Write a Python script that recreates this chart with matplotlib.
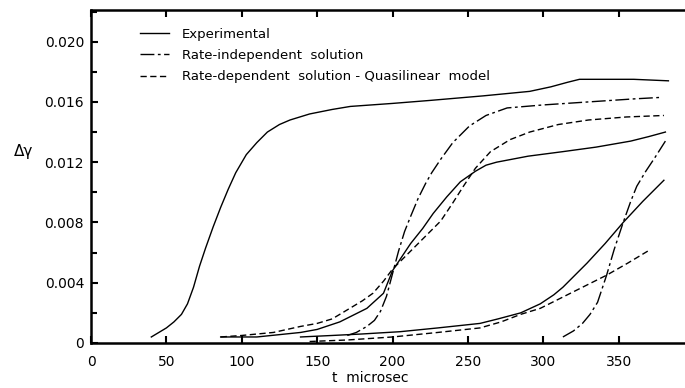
import matplotlib
matplotlib.use("Agg")
import matplotlib.pyplot as plt
import numpy as np

# experimental curves (solid)
exp1_t = [40, 50, 55, 60, 64, 68, 72, 76, 81, 86, 91, 96, 103, 110, 117, 125, 132, 145, 160, 172, 200, 225, 260, 291, 305, 316, 324, 340, 360, 383]
exp1_g = [0.0004, 0.0010, 0.0014, 0.0019, 0.0026, 0.0037, 0.0051, 0.0063, 0.0077, 0.0090, 0.0102, 0.0113, 0.0125, 0.0133, 0.0140, 0.0145, 0.0148, 0.0152, 0.0155, 0.0157, 0.0159, 0.0161, 0.0164, 0.0167, 0.0170, 0.0173, 0.0175, 0.0175, 0.0175, 0.0174]

exp2_t = [86, 110, 139, 150, 165, 175, 183, 194, 200, 206, 212, 220, 227, 236, 245, 255, 262, 269, 290, 313, 335, 358, 370, 381]
exp2_g = [0.0004, 0.0004, 0.0007, 0.0009, 0.0014, 0.0019, 0.0023, 0.0033, 0.0048, 0.0057, 0.0066, 0.0076, 0.0086, 0.0097, 0.0107, 0.0114, 0.0118, 0.0120, 0.0124, 0.0127, 0.0130, 0.0134, 0.0137, 0.0140]

exp3_t = [139, 160, 180, 205, 230, 258, 270, 285, 298, 307, 313, 329, 341, 353, 366, 380]
exp3_g = [0.0004, 0.0005, 0.0006, 0.00075, 0.0010, 0.0013, 0.0016, 0.0020, 0.0026, 0.0032, 0.0037, 0.0053, 0.0066, 0.0080, 0.0094, 0.0108]

# rate-independent solution (dash-dot)
ri1_t = [170, 176, 183, 188, 192, 196, 200, 204, 208, 212, 217, 222, 226, 232, 240, 251, 262, 276, 300, 330, 360, 378]
ri1_g = [0.0005, 0.0007, 0.0011, 0.0015, 0.0021, 0.0031, 0.0046, 0.0061, 0.0074, 0.0084, 0.0096, 0.0106, 0.0113, 0.0122, 0.0133, 0.0144, 0.0151, 0.0156, 0.0158, 0.0160, 0.0162, 0.0163]

ri2_t = [313, 320, 326, 331, 336, 342, 347, 353, 358, 362, 368, 374, 381]
ri2_g = [0.0004, 0.0008, 0.0013, 0.0019, 0.0027, 0.0045, 0.0062, 0.0080, 0.0094, 0.0104, 0.0114, 0.0123, 0.0134]

# rate-dependent solution, quasilinear model (dashed)
rd1_t = [86, 100, 121, 139, 150, 160, 170, 180, 187, 194, 200, 208, 216, 224, 232, 240, 247, 255, 265, 278, 291, 310, 330, 355, 380]
rd1_g = [0.0004, 0.0005, 0.0007, 0.0011, 0.0013, 0.0016, 0.0022, 0.0028, 0.0033, 0.0041, 0.0049, 0.0057, 0.0065, 0.0073, 0.0081, 0.0093, 0.0104, 0.0116, 0.0127, 0.0135, 0.0140, 0.0145, 0.0148, 0.0150, 0.0151]

rd2_t = [145, 170, 200, 230, 258, 272, 285, 298, 320, 342, 356, 371]
rd2_g = [0.0001, 0.0002, 0.0004, 0.0007, 0.0010, 0.0014, 0.0019, 0.0023, 0.0034, 0.0045, 0.0053, 0.0062]

labels = ["Experimental", "Rate-independent  solution", "Rate-dependent  solution - Quasilinear  model"]
xticks = [0, 50, 100, 150, 200, 250, 300, 350]
yticks = [0, 0.004, 0.008, 0.012, 0.016, 0.020]
ytick_labels = ["0", "0.004", "0.008", "0.012", "0.016", "0.020"]

plt.rcParams['font.family'] = ['DejaVu Sans']

fig = plt.figure(figsize=(6.85, 3.88), dpi=100)
ax = fig.add_axes([91 / 685, 45 / 388, 594 / 685, 333 / 388])

lw = 1.0
dashdot = (0, (10, 2.5, 2, 2.5))
dashed = (0, (4.5, 2.5))

ax.plot(exp1_t, exp1_g, color='k', lw=lw, label=labels[0])
ax.plot(exp2_t, exp2_g, color='k', lw=lw)
ax.plot(exp3_t, exp3_g, color='k', lw=lw)
ax.plot(ri1_t, ri1_g, color='k', lw=lw, linestyle=dashdot, label=labels[1])
ax.plot(ri2_t, ri2_g, color='k', lw=lw, linestyle=dashdot)
ax.plot(rd1_t, rd1_g, color='k', lw=lw, linestyle=dashed, label=labels[2])
ax.plot(rd2_t, rd2_g, color='k', lw=lw, linestyle=dashed)

ax.set_xlim(0, 394)
ax.set_ylim(0, 0.0221)
ax.set_xticks(xticks)
ax.set_yticks(yticks)
ax.set_yticklabels(ytick_labels)
ax.set_yticks(np.arange(0.002, 0.0221, 0.004), minor=True)

ax.tick_params(axis='both', which='both', direction='in', width=1.5, labelsize=10)
ax.tick_params(axis='x', which='major', length=5, pad=9, top=True)
ax.tick_params(axis='y', which='major', length=5, pad=5)
ax.tick_params(axis='y', which='minor', length=4)

for s in ['left', 'bottom', 'top']:
    ax.spines[s].set_linewidth(1.8)
ax.spines['right'].set_visible(False)

ax.text((370 - 91) / 594, -0.105, "t  microsec", transform=ax.transAxes,
        ha='center', va='center', fontsize=10)
fig.text(24 / 685, 1 - 152 / 388, "Δγ", ha='center', va='center', fontsize=11)

ax.legend(loc='upper left', bbox_to_anchor=(0.062, 0.982), frameon=False,
          fontsize=9.5, handlelength=2.2, handletextpad=1.0, labelspacing=0.62)

fig.savefig("out.png", dpi=100)
